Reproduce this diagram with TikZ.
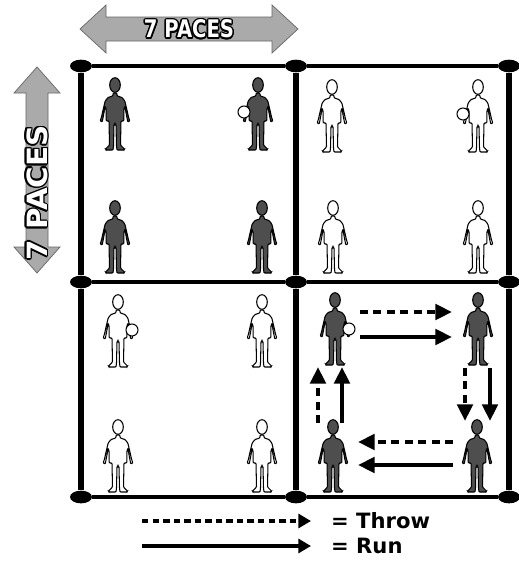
\documentclass[tikz,border=0pt]{standalone}
\usepackage{fontspec}
\setmainfont{DejaVu Sans}
\usepackage{graphicx}
\usetikzlibrary{arrows.meta,calc,positioning,shapes.geometric}
\definecolor{pacegray}{RGB}{170,170,170}
\definecolor{kiddark}{RGB}{78,78,78}

% white letters with a thin black rim
\newsavebox\paceblack
\newsavebox\pacewhite
\newcommand{\rimmed}[1]{%
  \sbox\paceblack{\color{black}#1}%
  \sbox\pacewhite{\color{white}#1}%
  \foreach \a in {0,30,...,330}{%
    \pgfmathsetlengthmacro\rimdx{1.3pt*cos(\a)}%
    \pgfmathsetlengthmacro\rimdy{1.3pt*sin(\a)}%
    \rlap{\hspace*{\rimdx}\raisebox{\rimdy}{\usebox\paceblack}}}%
  \usebox\pacewhite}
\newcommand{\pacestop}{\rimmed{\resizebox{2.7cm}{.54cm}{\bfseries 7 PACES}}}
\newcommand{\pacesside}{\rimmed{\resizebox{4.05cm}{.62cm}{\bfseries 7 PACES}}}
% one child, feet at the origin, head up (negative y here)
\newcommand{\kidbody}[1]{%
  \filldraw[fill=#1,draw=black,line width=.9pt,rounded corners=.7pt]
    (1.8,-57) -- (2.2,-54) -- (7,-52.5) -- (9.8,-49) -- (11.5,-42) -- (13.5,-33)
    -- (14.8,-29) -- (12.8,-28) -- (11.8,-33) -- (9.8,-44) -- (8.8,-40)
    -- (8.8,-29) -- (6,-29) -- (5.5,-5) -- (9.5,-1) -- (9,0) -- (2,0)
    -- (1.5,-4) -- (1,-25) -- (0,-26) -- (-1,-25) -- (-1.5,-4) -- (-2,0)
    -- (-9,0) -- (-9.5,-1) -- (-5.5,-5) -- (-6,-29) -- (-8.8,-29) -- (-8.8,-40)
    -- (-9.8,-44) -- (-11.8,-33) -- (-12.8,-28) -- (-14.8,-29) -- (-13.5,-33)
    -- (-11.5,-42) -- (-9.8,-49) -- (-7,-52.5) -- (-2.2,-54) -- (-1.8,-57) -- cycle;
  \filldraw[fill=#1,draw=black,line width=.9pt] (0,-65) ellipse [x radius=5.3,y radius=7.3];}
\tikzset{
  darkkid/.pic={\kidbody{kiddark}},
  whitekid/.pic={\kidbody{white}},
}

\begin{document}
\begin{tikzpicture}[x=.03cm,y=-.03cm,
    cone/.style={ellipse,fill=black,minimum width=.66cm,minimum height=.38cm,inner sep=0},
    hline/.style={line width=3.4pt},
    vline/.style={line width=4.4pt},
    pacearrow/.style={fill=pacegray,draw=black!60,line width=.6pt},
    pacelabel/.style={inner sep=0},
    ball/.style={fill=white,draw=black,line width=.9pt},
    throwline/.style={line width=3.4pt,dash pattern=on 6.5pt off 5pt,-{Triangle[length=.5cm,width=.46cm]}},
    runline/.style={line width=3.4pt,-{Triangle[length=.5cm,width=.46cm]}},
    throwkey/.style={line width=2.6pt,dash pattern=on 5.5pt off 3.5pt,-{Triangle[length=.38cm,width=.42cm]}},
    runkey/.style={line width=2.6pt,-{Triangle[length=.38cm,width=.42cm]}},
    keytext/.style={anchor=west,inner sep=0,font=\fontsize{18}{20}\selectfont\bfseries}]
  \useasboundingbox (0,0) rectangle (518,561);

  % the two distance arrows
  \filldraw[pacearrow] (80,29) -- (106,5) -- (106,17) -- (272,17) -- (272,5) -- (298,29)
    -- (272,53) -- (272,41) -- (106,41) -- (106,53) -- cycle;
  \filldraw[pacearrow] (37,67) -- (60,93) -- (48,93) -- (48,247) -- (60,247) -- (37,273)
    -- (14,247) -- (26,247) -- (26,93) -- (14,93) -- cycle;
  \node[pacelabel] (pacestop) at (189,29) {\pacestop};
  \node[pacelabel,rotate=90] (pacesside) at (37,193) {\pacesside};

  % cones and boundary lines
  \foreach \i/\x in {1/81,2/296,3/509}
    \foreach \j/\y in {1/66,2/282,3/497}
      \node[cone] (c\i\j) at (\x,\y) {};
  \foreach \j in {1,2,3}{
    \draw[hline] (c1\j) -- (c2\j);
    \draw[hline] (c2\j) -- (c3\j);
  }
  \foreach \i in {1,2,3}{
    \draw[vline] (c\i1) -- (c\i2);
    \draw[vline] (c\i2) -- (c\i3);
  }

  % children in the four squares
  \foreach \n/\x/\y in {a/115/150,b/258/150,c/115/273,d/262/273,
                        m/335/365,n/478/365,o/333/492,p/477/492}{
    \coordinate (k\n) at (\x,\y);
    \pic at (k\n) {darkkid};
  }
  \foreach \n/\x/\y in {e/332/152,f/478/152,g/333/273,h/478/273,
                        i/118/367,j/262/367,k/118/492,l/262/492}{
    \coordinate (k\n) at (\x,\y);
    \pic at (k\n) {whitekid};
  }
  \draw[ball] ($(kb)+(-14,-38)$) circle [radius=6];
  \draw[ball] ($(kf)+(-15,-38)$) circle [radius=6];
  \draw[ball] ($(ki)+(14,-37)$) circle [radius=6];
  \draw[ball] ($(km)+(14,-36)$) circle [radius=6];

  % throw and run round the square
  \foreach \n/\sx/\sy/\ex/\ey/\kind in {
      ta/360/312/452/312/throwline, ra/360/337/452/337/runline,
      tb/465/368/465/421/throwline, rb/490/368/490/421/runline,
      tc/453/442/358/442/throwline, rc/453/465/358/465/runline,
      td/318/423/318/367/throwline, rd/342/423/342/367/runline}{
    \coordinate (\n1) at (\sx,\sy);
    \coordinate (\n2) at (\ex,\ey);
    \draw[\kind] (\n1) -- (\n2);
  }

  % key
  \coordinate (tk1) at (142,521);
  \coordinate (tk2) at (311,521);
  \coordinate (rk1) at (142,546);
  \coordinate (rk2) at (311,546);
  \draw[throwkey] (tk1) -- (tk2);
  \draw[runkey] (rk1) -- (rk2);
  \node[keytext] (throw) at (331,521) {= Throw};
  \node[keytext] (run) at (331,546) {= Run};
\end{tikzpicture}
\end{document}
